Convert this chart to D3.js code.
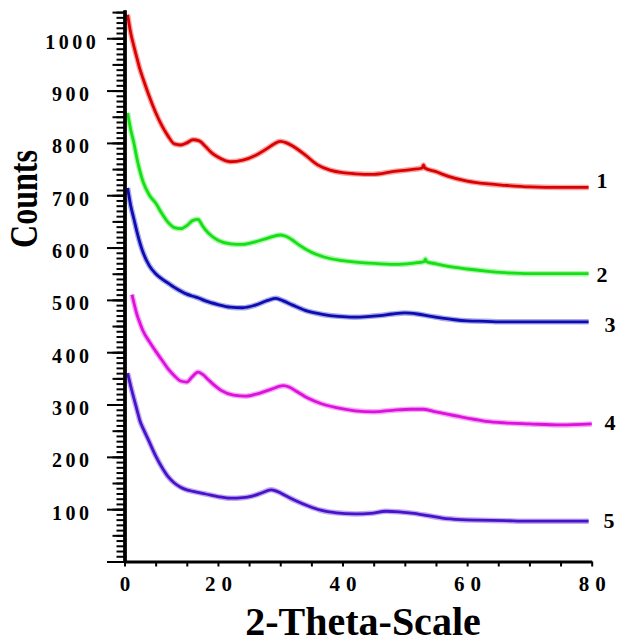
<!DOCTYPE html>
<html>
<head>
<meta charset="utf-8">
<script src="https://cdn.jsdelivr.net/npm/d3@7/dist/d3.min.js"></script>
<style>
  html, body { margin: 0; padding: 0; background: #fff; }
  svg { display: block; }
  text { font-family: "Liberation Serif", "Times New Roman", serif; font-weight: bold; fill: #000; }
</style>
</head>
<body>
<svg id="chart" width="617" height="644"></svg>
<script>
// ---- data ----
const seriesNames = ["1", "2", "3", "4", "5"];

const theta1  = [5.5, 6, 6.5, 7, 7.5, 8, 9, 10, 11, 12, 13, 14, 15, 16, 17, 18, 19, 20, 22, 24, 26, 28, 29, 30, 31, 32, 34, 36, 38, 40, 42, 45, 48, 51, 52.8, 53, 53.2, 55, 57, 60, 63, 66, 70, 75, 79.5];
const counts1 = [1045, 1010, 985, 962, 940, 922, 888, 858, 833, 813, 798, 796, 800, 806, 804, 793, 781, 773, 764, 767, 776, 790, 798, 803, 800, 794, 777, 758, 748, 743, 741, 740, 745, 749, 752, 758, 752, 745, 736, 727, 722, 719, 716, 715, 715];

const theta2  = [5.5, 6, 6.5, 7, 7.5, 8, 9, 10, 11, 12, 13, 14, 15, 16, 16.8, 17.5, 18, 19, 20, 22, 24, 26, 28, 30, 31, 32, 33, 35, 37, 40, 43, 46, 49, 52, 53.1, 53.3, 53.5, 55, 57, 60, 63, 66, 70, 75, 79.5];
const counts2 = [857, 825, 800, 770, 745, 725, 700, 685, 665, 648, 638, 636, 642, 652, 654, 642, 634, 622, 614, 607, 606, 611, 618, 624, 621, 614, 605, 591, 582, 575, 571, 569, 568, 571, 573, 578, 573, 569, 564, 559, 555, 552, 550, 550, 550];

const theta3  = [5.5, 6, 6.5, 7, 7.5, 8, 9, 10, 11, 12, 13, 14, 15, 16, 17, 18, 20, 22, 24, 26, 28, 29.3, 30.5, 32, 34, 36, 38, 40, 42, 44, 46, 48, 50, 52, 54, 56, 58, 60, 63, 66, 70, 75, 79.5];
const counts3 = [714, 680, 655, 630, 608, 590, 565, 550, 540, 532, 524, 517, 511, 507, 503, 498, 491, 486, 485, 490, 499, 503, 498, 490, 480, 474, 470, 468, 467, 468, 470, 473, 475, 473, 469, 465, 462, 460, 459, 458, 458, 458, 458];

const theta4  = [6.2, 6.5, 7, 7.5, 8, 9, 10, 11, 12, 13, 14, 15, 15.8, 16.8, 17.5, 18.5, 19.5, 20.5, 22.5, 24.5, 26.5, 28.5, 30.5, 31.5, 32.5, 34.5, 36.5, 39, 42, 45, 48, 51, 53, 55, 57, 60, 63, 66, 70, 75, 80];
const counts4 = [510, 495, 472, 455, 440, 420, 402, 385, 368, 355, 345, 343, 352, 362, 358, 347, 336, 327, 318, 316, 321, 329, 336, 333, 326, 312, 302, 294, 288, 286, 289, 291, 291, 286, 281, 274, 268, 265, 263, 261, 263];

const theta5  = [5.5, 6, 6.5, 7, 7.5, 8, 9, 10, 11, 12, 13, 14, 15, 16, 18, 20, 22, 24, 25.5, 27, 28.5, 29.5, 31, 32.5, 34.5, 36.5, 39, 42, 44.5, 47, 49, 51.5, 54, 56, 59, 62, 66, 70, 75, 79.5];
const counts5 = [360, 335, 312, 290, 268, 254, 228, 202, 180, 162, 150, 142, 137, 134, 129, 124, 121, 122, 125, 131, 137, 134, 125, 116, 106, 98, 93, 91, 92, 96, 95, 92, 87, 83, 80, 79, 78, 77, 77, 77];

const xTicks = [5, 10, 15, 20, 25, 30, 35, 40, 45, 50, 55, 60, 65, 70, 75, 80];
const xTickLabels = ["0", "", "", "20", "", "", "", "40", "", "", "", "60", "", "", "", "80"];
const yMajorTicks = [0, 100, 200, 300, 400, 500, 600, 700, 800, 900, 1000];

const xTitle = "2-Theta-Scale";
const yTitle = "Counts";

// ---- drawing ----
const colors = ["#dc0000", "#14e014", "#0c0cb4", "#dd10dd", "#4812cc"];
const thetas = [theta1, theta2, theta3, theta4, theta5];
const counts = [counts1, counts2, counts3, counts4, counts5];

const svg = d3.select("#chart");
svg.append("rect").attr("width", 617).attr("height", 644).attr("fill", "#fff");

const x = d3.scaleLinear().domain([5, 80]).range([124.5, 591.7]);
const y = d3.scaleLinear().domain([0, 1054]).range([561.5, 10]);

const line = d3.line().x(d => x(d[0])).y(d => y(d[1])).curve(d3.curveMonotoneX);

thetas.forEach((t, i) => {
  const pts = t.map((v, j) => [v, counts[i][j]]);
  svg.append("path").datum(pts).attr("d", line)
    .attr("fill", "none").attr("stroke", colors[i]).attr("stroke-opacity", 0.35)
    .attr("stroke-width", 5.5).attr("stroke-linejoin", "round");
  svg.append("path").datum(pts).attr("d", line)
    .attr("fill", "none").attr("stroke", colors[i])
    .attr("stroke-width", 2.8).attr("stroke-linejoin", "round");
});

// series labels
const labelX = [602, 602, 610, 610, 609];
const labelDy = [1, 8, 10, 6, 7];
seriesNames.forEach((n, i) => {
  const last = counts[i][counts[i].length - 1];
  svg.append("text").attr("x", labelX[i]).attr("y", y(last) + labelDy[i])
    .attr("text-anchor", "middle").style("font-size", "22px").text(n);
});

// y axis: minor, mid, major ticks
const tickRange = (step) => d3.range(0, 1051, step);
const yMinor = svg.append("g").attr("transform", "translate(124.5,0)")
  .call(d3.axisLeft(y).tickValues(tickRange(10)).tickSize(8).tickSizeOuter(0).tickFormat(""));
const yMid = svg.append("g").attr("transform", "translate(124.5,0)")
  .call(d3.axisLeft(y).tickValues(tickRange(50)).tickSize(12).tickSizeOuter(0).tickFormat(""));
const yMajor = svg.append("g").attr("transform", "translate(124.5,0)")
  .call(d3.axisLeft(y).tickValues(yMajorTicks).tickSize(17.5).tickSizeOuter(0)
    .tickFormat(d => d === 0 ? "" : d));
[yMinor, yMid, yMajor].forEach(g => {
  g.selectAll(".tick line").attr("stroke", "#000").attr("stroke-width", 2);
  g.select(".domain").attr("stroke", "#000").attr("stroke-width", 3);
});
yMajor.selectAll(".tick text")
  .attr("x", 70.5 - 124.5 + 1.75).attr("dy", "0.5em")
  .attr("text-anchor", "middle")
  .style("font-size", "20px").style("letter-spacing", "3.5px")
  .style("font-family", "'Liberation Serif', 'Times New Roman', serif").style("font-weight", "bold");

// x axis
const xAxis = svg.append("g").attr("transform", "translate(0,561.5)")
  .call(d3.axisBottom(x).tickValues(xTicks).tickSize(5).tickSizeOuter(0)
    .tickFormat((d, i) => xTickLabels[i]));
xAxis.select(".domain").attr("stroke", "#000").attr("stroke-width", 3);
xAxis.selectAll(".tick line").attr("stroke", "#000").attr("stroke-width", 2);
xAxis.selectAll(".tick text")
  .attr("y", 15).attr("dx", "3px")
  .style("font-size", "21px").style("letter-spacing", "6px")
  .style("font-family", "'Liberation Serif', 'Times New Roman', serif").style("font-weight", "bold");

// titles
svg.append("text").attr("x", 363).attr("y", 635).attr("text-anchor", "middle")
  .style("font-size", "40px").text(xTitle);
svg.append("text").attr("transform", "translate(37,199) rotate(-90)")
  .attr("text-anchor", "middle").attr("textLength", 98).attr("lengthAdjust", "spacingAndGlyphs")
  .style("font-size", "40px").text(yTitle);
</script>
</body>
</html>
